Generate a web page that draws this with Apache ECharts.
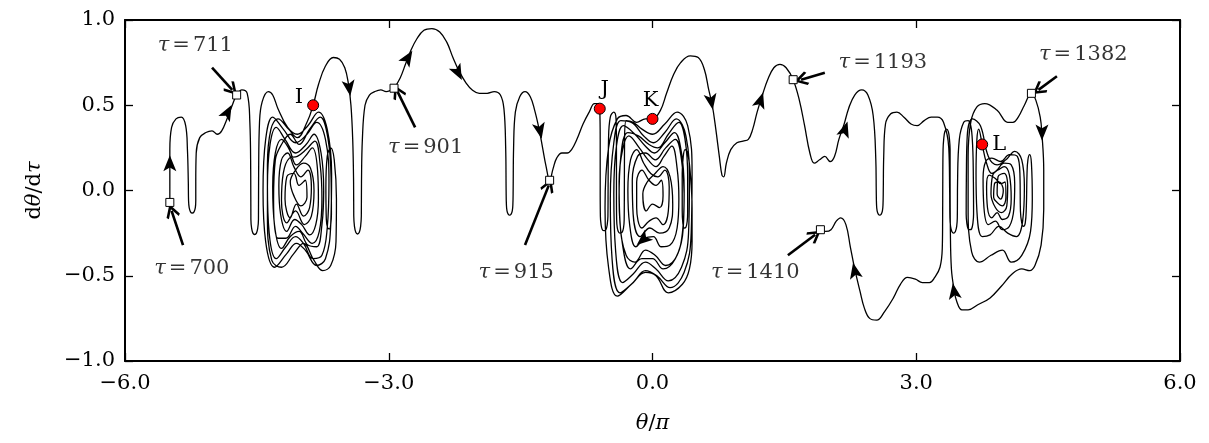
<!DOCTYPE html>
<html><head><meta charset="utf-8">
<script src="https://cdn.jsdelivr.net/npm/echarts@6/dist/echarts.min.js"></script>
<style>html,body{margin:0;padding:0;background:#fff}#c{width:1209px;height:443px}</style>
</head><body><div id="c"></div>
<script>
// ---- data (theta/pi , dtheta/dtau) ----
const xTickValues = [-6, -3, 0, 3, 6];
const yTickValues = [-1, -0.5, 0, 0.5, 1];

// tau = 700 -> entry of the left spiral
const pathStart = [[-5.49,-0.07],[-5.49,0.06],[-5.49,0.24],[-5.47,0.37],[-5.42,0.42],[-5.36,0.43],[-5.31,0.38],[-5.29,0.24],[-5.28,0.05],[-5.277,-0.06],[-5.27,-0.10],[-5.255,-0.125],[-5.235,-0.132],[-5.215,-0.125],[-5.20,-0.10],[-5.195,-0.06],[-5.195,0.05],[-5.19,0.22],[-5.15,0.31],[-5.08,0.34],[-5.01,0.35],[-4.95,0.33],[-4.90,0.35],[-4.84,0.42],[-4.78,0.50],[-4.73,0.56],[-4.67,0.59],[-4.61,0.57],[-4.58,0.40],[-4.57,0.10],[-4.568,-0.17],[-4.56,-0.22],[-4.545,-0.25],[-4.525,-0.258],[-4.505,-0.25],[-4.49,-0.22],[-4.482,-0.17],[-4.48,0.10],[-4.47,0.40],[-4.44,0.52],[-4.37,0.58],[-4.32,0.56],[-4.26,0.48]];

// left spiral, leaving at I
const spiralI = [[-4.15,0.37],[-4.04,0.33],[-3.92,0.38],[-3.80,0.46],[-3.70,0.36],[-3.65,0.10],[-3.66,-0.20],[-3.72,-0.40],[-3.82,-0.44],[-3.95,-0.35],[-4.05,-0.31],[-4.16,-0.37],[-4.30,-0.45],[-4.40,-0.30],[-4.43,0.00],[-4.40,0.30],[-4.32,0.43],
[-4.20,0.36],[-4.06,0.28],[-3.93,0.33],[-3.82,0.40],[-3.72,0.30],[-3.68,0.05],[-3.70,-0.22],[-3.76,-0.38],[-3.86,-0.40],[-3.97,-0.31],[-4.06,-0.27],[-4.17,-0.33],[-4.28,-0.40],[-4.36,-0.25],[-4.38,0.02],[-4.35,0.27],[-4.28,0.37],
[-4.18,0.30],[-4.06,0.22],[-3.94,0.27],[-3.85,0.33],[-3.77,0.22],[-3.74,0.00],[-3.76,-0.20],[-3.82,-0.33],[-3.92,-0.32],[-4.02,-0.24],[-4.12,-0.27],[-4.22,-0.34],[-4.30,-0.20],[-4.32,0.02],[-4.29,0.22],[-4.22,0.30],
[-4.13,0.24],[-4.05,0.15],[-3.95,0.20],[-3.87,0.25],[-3.81,0.12],[-3.80,-0.05],[-3.83,-0.20],[-3.90,-0.26],[-3.99,-0.20],[-4.07,-0.17],[-4.16,-0.24],[-4.23,-0.14],[-4.25,0.03],[-4.22,0.18],[-4.15,0.22],
[-4.08,0.14],[-4.00,0.08],[-3.92,0.12],[-3.88,0.02],[-3.90,-0.10],[-3.97,-0.15],[-4.05,-0.08],[-4.12,-0.16],[-4.18,-0.05],[-4.16,0.08],[-4.08,0.10],[-4.02,0.03],[-3.95,0.06],[-3.93,-0.04],[-4.00,-0.09],[-4.08,-0.03],[-4.12,0.05],[-4.06,0.12],[-3.97,0.16],[-3.89,0.13],[-3.85,0.00],[-3.88,-0.15],[-3.96,-0.20],[-4.06,-0.12],[-4.16,-0.19],[-4.22,-0.06],[-4.20,0.10],[-4.13,0.19],
[-4.04,0.20],[-3.94,0.24],[-3.84,0.29],[-3.78,0.15],[-3.76,-0.05],[-3.79,-0.24],[-3.87,-0.31],[-3.98,-0.25],[-4.06,-0.21],[-4.17,-0.28],[-4.26,-0.28],[-4.31,-0.05],[-4.29,0.18],[-4.22,0.27],
[-4.12,0.33],[-4.02,0.27],[-3.90,0.36],[-3.78,0.43],[-3.69,0.30],[-3.655,0.05],[-3.652,-0.14],[-3.66,-0.20],[-3.675,-0.225],[-3.695,-0.22],[-3.71,-0.17],[-3.715,0.02],[-3.70,0.20],[-3.66,0.25],[-3.62,0.18],[-3.595,-0.05],[-3.60,-0.30],[-3.66,-0.44],[-3.75,-0.47],[-3.85,-0.41],[-3.97,-0.31],[-4.08,-0.37],[-4.22,-0.45],[-4.33,-0.41],[-4.38,-0.15],[-4.38,0.15],[-4.34,0.36],[-4.26,0.42],
[-4.14,0.36],[-4.04,0.31],[-3.93,0.40],[-3.86,0.50]];

// I -> tau 901 -> tau 915 -> J
const pathMiddle = [[-3.80,0.62],[-3.72,0.73],[-3.63,0.78],[-3.56,0.77],[-3.50,0.72],[-3.46,0.63],[-3.43,0.50],[-3.41,0.30],[-3.40,0.05],[-3.398,-0.15],[-3.39,-0.21],[-3.375,-0.245],[-3.355,-0.255],[-3.335,-0.245],[-3.32,-0.21],[-3.312,-0.15],[-3.31,0.05],[-3.30,0.30],[-3.27,0.50],[-3.22,0.56],[-3.16,0.58],[-3.09,0.59],[-3.03,0.58],[-2.97,0.59],[-2.94,0.60],
[-2.87,0.66],[-2.81,0.74],[-2.75,0.82],[-2.68,0.89],[-2.60,0.94],[-2.51,0.95],[-2.42,0.93],[-2.34,0.87],[-2.27,0.78],[-2.20,0.70],[-2.12,0.63],[-2.05,0.59],[-1.97,0.57],[-1.88,0.57],[-1.80,0.58],[-1.73,0.56],[-1.69,0.48],[-1.67,0.25],[-1.665,0.00],[-1.662,-0.08],[-1.655,-0.12],[-1.64,-0.14],[-1.625,-0.145],[-1.61,-0.14],[-1.595,-0.12],[-1.588,-0.08],[-1.585,0.00],[-1.58,0.25],[-1.56,0.46],[-1.51,0.55],[-1.45,0.58],[-1.39,0.55],[-1.34,0.47],[-1.29,0.36],[-1.25,0.25],[-1.21,0.14],[-1.17,0.06],[-1.13,0.13],[-1.09,0.19],[-1.03,0.22],[-0.97,0.22],[-0.92,0.24],[-0.86,0.30],[-0.79,0.39],[-0.72,0.46],[-0.66,0.51],[-0.62,0.51],[-0.60,0.48]];

// central spiral J -> K
const spiralJK = [[-0.595,0.30],[-0.595,0.02],[-0.593,-0.15],[-0.585,-0.20],[-0.57,-0.23],[-0.55,-0.235],[-0.53,-0.23],[-0.515,-0.20],[-0.507,-0.15],[-0.505,0.02],[-0.50,0.30],[-0.48,0.43],[-0.44,0.46],[-0.415,0.42],[-0.41,0.25],[-0.41,-0.02],[-0.408,-0.17],[-0.40,-0.22],[-0.385,-0.245],[-0.365,-0.25],[-0.345,-0.245],[-0.33,-0.22],[-0.322,-0.17],[-0.32,0.02],[-0.318,0.28],[-0.30,0.41],
[-0.22,0.40],[-0.12,0.36],[0.00,0.33],[0.14,0.39],[0.28,0.46],[0.40,0.38],[0.45,0.10],[0.44,-0.25],[0.36,-0.48],[0.20,-0.57],[0.05,-0.50],[-0.08,-0.47],[-0.22,-0.54],[-0.37,-0.60],[-0.46,-0.40],[-0.48,-0.05],[-0.44,0.28],[-0.36,0.41],
[-0.24,0.40],[-0.10,0.32],[0.01,0.28],[0.14,0.34],[0.27,0.42],[0.38,0.32],[0.42,0.05],[0.41,-0.25],[0.33,-0.45],[0.18,-0.53],[0.04,-0.46],[-0.08,-0.42],[-0.22,-0.49],[-0.34,-0.54],[-0.42,-0.35],[-0.44,-0.02],[-0.41,0.26],[-0.33,0.38],
[-0.20,0.33],[-0.08,0.26],[0.02,0.22],[0.14,0.28],[0.25,0.34],[0.33,0.22],[0.36,0.00],[0.35,-0.22],[0.28,-0.38],[0.15,-0.44],[0.03,-0.38],[-0.08,-0.35],[-0.20,-0.42],[-0.30,-0.38],[-0.37,-0.18],[-0.38,0.05],[-0.34,0.24],[-0.27,0.32],
[-0.15,0.25],[-0.05,0.18],[0.04,0.14],[0.13,0.20],[0.22,0.26],[0.28,0.13],[0.30,-0.05],[0.28,-0.22],[0.20,-0.32],[0.10,-0.33],[0.01,-0.27],[-0.09,-0.28],[-0.19,-0.33],[-0.26,-0.20],[-0.28,0.00],[-0.25,0.18],[-0.18,0.24],
[-0.10,0.16],[-0.02,0.10],[0.06,0.08],[0.14,0.12],[0.19,0.02],[0.18,-0.12],[0.12,-0.20],[0.04,-0.16],[-0.04,-0.18],[-0.12,-0.22],[-0.18,-0.10],[-0.18,0.05],[-0.12,0.12],[-0.04,0.06],[0.04,0.03],[0.10,0.06],[0.12,-0.03],[0.08,-0.10],[0.00,-0.08],[-0.07,-0.12],[-0.11,-0.02],[-0.06,0.05],[0.03,0.10],[0.12,0.14],[0.20,0.08],[0.23,-0.08],[0.19,-0.22],[0.08,-0.25],[-0.03,-0.22],[-0.14,-0.27],[-0.22,-0.14],[-0.23,0.06],[-0.17,0.20],
[-0.08,0.22],[0.03,0.18],[0.15,0.25],[0.26,0.30],[0.33,0.18],[0.36,-0.02],[0.34,-0.25],[0.26,-0.40],[0.12,-0.46],[0.00,-0.40],[-0.12,-0.40],[-0.25,-0.46],[-0.34,-0.32],[-0.38,-0.05],[-0.36,0.20],[-0.28,0.34],
[-0.16,0.32],[-0.04,0.27],[0.06,0.25],[0.18,0.33],[0.30,0.40],[0.37,0.30],[0.40,0.08],[0.40,-0.12],[0.395,-0.18],[0.38,-0.215],[0.36,-0.22],[0.345,-0.19],[0.338,-0.12],[0.338,0.10],[0.35,0.20],[0.37,0.24],[0.40,0.22],[0.43,0.10],[0.45,-0.10],[0.45,-0.30],[0.42,-0.46],[0.34,-0.55],[0.18,-0.60],[0.04,-0.50],[-0.08,-0.48],[-0.24,-0.55],[-0.40,-0.62],[-0.50,-0.45],[-0.54,-0.10],[-0.50,0.25],[-0.40,0.42],[-0.30,0.44],[-0.18,0.40],[-0.08,0.42],[0.00,0.42]];

// K -> tau 1193 -> right spiral
const pathRight = [[0.09,0.47],[0.16,0.57],[0.24,0.68],[0.32,0.75],[0.43,0.79],[0.52,0.78],[0.59,0.71],[0.64,0.59],[0.68,0.50],[0.72,0.36],[0.76,0.20],[0.79,0.09],[0.81,0.08],[0.84,0.16],[0.89,0.24],[0.96,0.28],[1.03,0.29],[1.09,0.30],[1.14,0.36],[1.19,0.46],[1.25,0.56],[1.31,0.65],[1.38,0.72],[1.45,0.74],[1.52,0.72],[1.60,0.65],[1.67,0.53],[1.73,0.38],[1.79,0.22],[1.84,0.16],[1.90,0.18],[1.96,0.20],[2.02,0.17],[2.07,0.20],[2.12,0.30],[2.18,0.39],[2.23,0.48],[2.30,0.56],[2.38,0.59],[2.45,0.56],[2.51,0.44],[2.54,0.18],[2.545,0.00],[2.548,-0.08],[2.555,-0.12],[2.57,-0.14],[2.585,-0.145],[2.60,-0.14],[2.615,-0.12],[2.622,-0.08],[2.625,0.00],[2.63,0.20],[2.65,0.39],[2.71,0.45],[2.78,0.46],[2.86,0.43],[2.94,0.39],[3.01,0.38],[3.09,0.41],[3.17,0.43],[3.24,0.43]];

// right spiral through L, up to tau 1382
const spiralL = [[3.31,0.40],[3.37,0.25],[3.38,0.00],[3.383,-0.16],[3.39,-0.21],[3.405,-0.24],[3.425,-0.25],[3.445,-0.24],[3.46,-0.21],[3.467,-0.16],[3.47,0.05],[3.49,0.30],[3.54,0.40],[3.59,0.41],[3.635,0.32],[3.65,0.05],[3.652,-0.14],[3.645,-0.19],[3.63,-0.225],[3.61,-0.23],[3.59,-0.225],[3.575,-0.19],[3.568,-0.14],[3.57,0.08],[3.58,0.32],[3.64,0.42],[3.73,0.38],
[3.82,0.20],[3.92,0.15],[4.02,0.18],[4.12,0.23],[4.20,0.18],[4.23,0.02],[4.21,-0.18],[4.14,-0.27],[4.04,-0.25],[3.94,-0.21],[3.84,-0.26],[3.75,-0.27],[3.69,-0.12],[3.68,0.10],[3.69,0.30],[3.71,0.36],[3.75,0.27],[3.80,0.16],[3.86,0.10],[3.93,0.12],[4.00,0.14],[4.06,0.09],[4.08,-0.05],[4.05,-0.15],[3.98,-0.17],[3.92,-0.13],[3.86,-0.16],[3.81,-0.10],[3.80,0.02],[3.83,0.09],
[3.90,0.07],[3.96,0.04],[4.01,0.05],[4.02,-0.04],[3.98,-0.09],[3.92,-0.07],[3.88,-0.04],[3.89,0.04],[3.94,0.05],[3.99,0.00],[3.96,-0.05],[3.92,-0.02],[3.93,0.08],[4.00,0.10],[4.04,0.03],[4.03,-0.09],[3.97,-0.13],[3.90,-0.10],[3.85,-0.02],[3.87,0.09],
[3.92,0.12],[4.00,0.16],[4.08,0.15],[4.12,0.04],[4.11,-0.11],[4.06,-0.21],[3.98,-0.23],[3.90,-0.18],[3.82,-0.20],[3.77,-0.10],[3.76,0.07],[3.79,0.17],[3.86,0.19],[3.96,0.17],[4.06,0.21],[4.15,0.20],[4.18,0.08],[4.185,-0.12],[4.20,-0.19],[4.22,-0.21],[4.24,-0.19],[4.252,-0.10],[4.26,0.10],[4.27,0.18],[4.29,0.21],[4.31,0.16],[4.32,-0.05],[4.30,-0.24],
[4.20,-0.38],[4.08,-0.42],[3.98,-0.35],[3.85,-0.38],[3.72,-0.42],[3.63,-0.36],[3.59,-0.10],[3.59,0.20],[3.62,0.40],[3.69,0.49],[3.78,0.51],[3.92,0.47],[4.04,0.40],[4.10,0.40],[4.16,0.43],[4.23,0.50],[4.31,0.57]];

// tau 1382 -> tau 1410
const pathEnd = [[4.36,0.53],[4.41,0.43],[4.43,0.33],[4.45,0.12],[4.45,-0.11],[4.42,-0.32],[4.35,-0.44],[4.29,-0.47],[4.20,-0.46],[4.09,-0.49],[3.97,-0.56],[3.84,-0.63],[3.70,-0.67],[3.59,-0.70],[3.52,-0.70],[3.46,-0.65],[3.43,-0.58],[3.40,-0.46],[3.388,-0.23],[3.385,0.06],[3.385,0.24],[3.378,0.30],[3.365,0.345],[3.345,0.36],[3.325,0.345],[3.312,0.30],[3.305,0.24],[3.302,0.08],[3.30,-0.17],[3.296,-0.34],[3.27,-0.45],[3.21,-0.51],[3.15,-0.54],[3.07,-0.54],[2.99,-0.52],[2.90,-0.51],[2.82,-0.55],[2.74,-0.63],[2.64,-0.71],[2.55,-0.76],[2.47,-0.75],[2.41,-0.69],[2.36,-0.59],[2.30,-0.46],[2.25,-0.33],[2.20,-0.20],[2.14,-0.16],[2.09,-0.18],[2.03,-0.23],[1.97,-0.24],[1.91,-0.23]];

// direction arrowheads on the trajectory: [theta/pi, dtheta/dtau, heading in degrees]
const flowArrows = [[-5.49,0.16,0],[-4.83,0.46,-28],[-3.45,0.60,-172],[-2.78,0.78,-32],[-2.21,0.69,-153],[-1.28,0.35,-168],[-0.11,-0.29,130],[0.67,0.52,-170],[1.23,0.53,-18],[2.19,0.36,-18],[4.43,0.34,180],[3.43,-0.59,9],[2.30,-0.47,12]];

// tau markers
const tauValues = ['700','711','901','915','1193','1382','1410'];
const tauPoints = [[-5.49,-0.07],[-4.73,0.56],[-2.94,0.60],[-1.17,0.06],[1.60,0.65],[4.31,0.57],[1.91,-0.23]];
const tauTextAt = [[-5.24,-0.46],[-5.20,0.85],[-2.58,0.25],[-1.55,-0.48],[2.62,0.75],[4.90,0.80],[1.17,-0.48]];
const tauArrowFrom = [[-5.34,-0.32],[-5.01,0.72],[-2.70,0.37],[-1.45,-0.32],[1.96,0.69],[4.60,0.67],[1.54,-0.38]];
const tauArrowTo = [[-5.47,-0.12],[-4.78,0.59],[-2.90,0.58],[-1.18,0.03],[1.69,0.65],[4.39,0.59],[1.85,-0.26]];

// highlighted states
const keyNames = ['I','J','K','L'];
const keyPoints = [[-3.86,0.50],[-0.60,0.48],[0.00,0.42],[3.75,0.27]];

// ---- chart ----
const FONT = '"DejaVu Serif", serif';
const FS = 21;
const trajectory = [].concat(pathStart, spiralI, pathMiddle, spiralJK, pathRight, spiralL, pathEnd);
const minus = v => (v < 0 ? '\u2212' : '') + Math.abs(v).toFixed(1);
const keyLabelStyle = [
  {position:'left', distance:4, offset:[0,-8]},
  {position:'top', distance:3, offset:[5,0]},
  {position:'top', distance:2, offset:[-2,0]},
  {position:'right', distance:4, offset:[0,0]}
];
const headPath = 'path://M0,-8 L6.5,7 L0,3.5 L-6.5,7 Z';
const chevron = 'path://M0,0 L7,9 L5.2,10.5 L0,3.8 L-5.2,10.5 L-7,9 Z';

const axisCommon = {
  type:'value', min:-6, max:6, interval:3,
  axisLine:{show:true, onZero:false, lineStyle:{color:'#000', width:2}},
  axisTick:{show:true, inside:true, length:8, lineStyle:{color:'#000', width:1.3}},
  splitLine:{show:false}
};
const yCommon = {
  type:'value', min:-1, max:1, interval:0.5,
  axisLine:{show:true, onZero:false, lineStyle:{color:'#000', width:2}},
  axisTick:{show:true, inside:true, length:8, lineStyle:{color:'#000', width:1.3}},
  splitLine:{show:false}
};
const italic = {fontStyle:'italic', fontFamily:FONT, fontSize:FS, color:'#000'};

const chart = echarts.init(document.getElementById('c'), null, {renderer:'canvas'});
chart.setOption({
  animation:false,
  backgroundColor:'#fff',
  grid:{left:125, right:29, top:20, bottom:82, containLabel:false},
  xAxis:[
    Object.assign({}, axisCommon, {position:'bottom',
      axisLabel:{show:true, margin:12, color:'#000', fontFamily:FONT, fontSize:FS, formatter:minus},
      name:'{i|θ}/{i|π}', nameLocation:'middle', nameGap:52,
      nameTextStyle:{color:'#000', fontFamily:FONT, fontSize:FS, rich:{i:italic}}
    }),
    Object.assign({}, axisCommon, {position:'top', axisLabel:{show:false}})
  ],
  yAxis:[
    Object.assign({}, yCommon, {position:'left',
      axisLabel:{show:true, margin:10, color:'#000', fontFamily:FONT, fontSize:FS, formatter:minus},
      name:'d{i|θ}/d{i|τ}', nameLocation:'middle', nameGap:80, nameRotate:90,
      nameTextStyle:{color:'#000', fontFamily:FONT, fontSize:FS, rich:{i:italic}}
    }),
    Object.assign({}, yCommon, {position:'right', axisLabel:{show:false}})
  ],
  series:[
    {
      type:'line', data:trajectory, showSymbol:false, smooth:0.4, z:2,
      lineStyle:{color:'#000', width:1.3}, silent:true
    },
    {
      type:'scatter', z:4, silent:true,
      data:flowArrows.map(a => ({value:[a[0], a[1]], symbolRotate:a[2]})),
      symbol:headPath, symbolSize:[13,16], itemStyle:{color:'#000', opacity:1}
    },
    {
      type:'scatter', z:5, silent:true,
      data:tauPoints, symbol:'rect', symbolSize:8,
      itemStyle:{color:'#fff', borderColor:'#000', borderWidth:1, opacity:1}
    },
    {
      type:'lines', coordinateSystem:'cartesian2d', z:5, silent:true,
      data:tauArrowFrom.map((f,i) => ({coords:[f, tauArrowTo[i]]})),
      symbol:['none', chevron], symbolSize:[1,14],
      lineStyle:{color:'#000', width:2.6, opacity:1}
    },
    {
      type:'scatter', z:6, silent:true, symbolSize:0,
      data:tauTextAt.map((p,i) => ({value:p, name:tauValues[i]})),
      label:{show:true, position:'inside', color:'#000', fontFamily:FONT, fontSize:FS,
        formatter:p => '{t|τ}{e|=}' + p.name,
        rich:{t:italic, e:{fontFamily:FONT, fontSize:FS, color:'#000', padding:[0,3,0,3]}}}
    },
    {
      type:'scatter', z:7, silent:true,
      data:keyPoints.map((p,i) => ({value:p, name:keyNames[i], label:keyLabelStyle[i]})),
      symbol:'circle', symbolSize:11,
      itemStyle:{color:'#ff0000', borderColor:'#000', borderWidth:1, opacity:1},
      label:{show:true, formatter:'{b}', color:'#000', fontFamily:FONT, fontSize:FS}
    }
  ]
});
</script></body></html>
